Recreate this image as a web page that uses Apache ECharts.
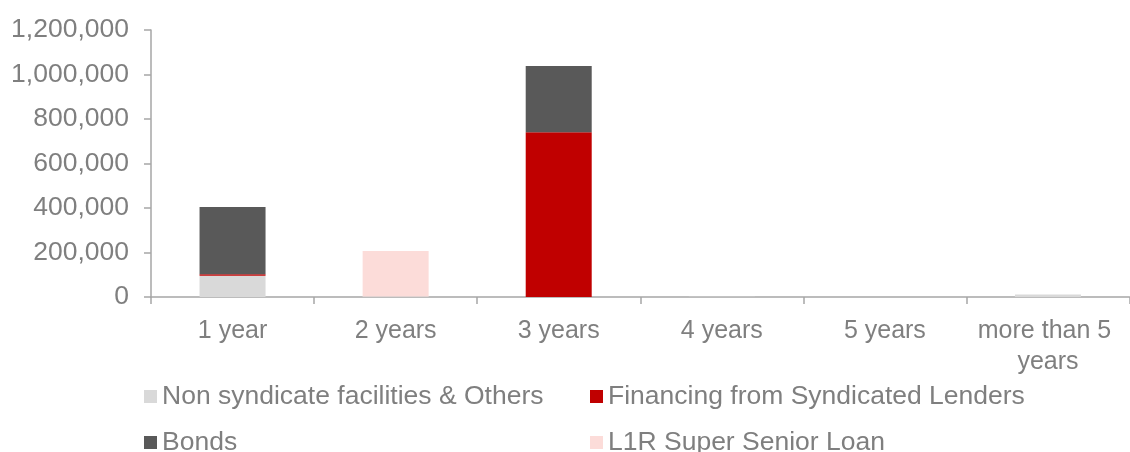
<!DOCTYPE html>
<html>
<head>
<meta charset="utf-8">
<script src="https://cdn.jsdelivr.net/npm/echarts@6/dist/echarts.min.js"></script>
<style>
html,body{margin:0;padding:0;background:#fff;}
#c{width:1130px;height:452px;}
</style>
</head>
<body>
<div id="c"></div>
<script>
const categories = ['1 year', '2 years', '3 years', '4 years', '5 years', 'more than 5 years'];
const nonSyndicate = [96000, 2000, 0, 1500, 0, 11000];
const financingSyndicated = [6000, 0, 740000, 0, 0, 0];
const bonds = [302000, 0, 298000, 0, 0, 0];
const l1rSuperSenior = [0, 205000, 0, 0, 0, 0];
const yTicks = [0, 200000, 400000, 600000, 800000, 1000000, 1200000];
const seriesNames = ['Non syndicate facilities & Others', 'Financing from Syndicated Lenders', 'Bonds', 'L1R Super Senior Loan'];

const FONT = '"Liberation Sans", Arial, sans-serif';
const TXT = '#7f7f7f';
const AX = '#a6a6a6';

const chart = echarts.init(document.getElementById('c'), null, {renderer: 'canvas'});
const mk = (name, data, color) => ({
  name, type: 'bar', stack: 'total', data, barWidth: 66,
  itemStyle: {color}, emphasis: {disabled: true}
});
const lg = (name, left, top) => ({
  data: [name], left, top, orient: 'horizontal',
  itemWidth: 13, itemHeight: 13, icon: 'rect', padding: 0,
  textStyle: {color: TXT, fontSize: 26.5, lineHeight: 26, fontFamily: FONT}
});
chart.setOption({
  animation: false,
  textStyle: {fontFamily: FONT},
  grid: {left: 151, top: 30, bottom: 155, right: -11, containLabel: false},
  legend: [
    lg(seriesNames[0], 144, 383),
    lg(seriesNames[1], 590, 383),
    lg(seriesNames[2], 144, 429),
    lg(seriesNames[3], 590, 429)
  ],
  xAxis: {
    type: 'category', data: categories,
    axisLine: {lineStyle: {color: AX, width: 1.5}},
    axisTick: {show: true, alignWithLabel: false, length: 7, lineStyle: {color: AX, width: 1.5}},
    axisLabel: {
      color: TXT, fontSize: 25, lineHeight: 31, margin: 19, fontFamily: FONT,
      interval: 0, width: 160, overflow: 'break'
    }
  },
  yAxis: {
    type: 'value', min: yTicks[0], max: yTicks[yTicks.length - 1], interval: 200000,
    splitLine: {show: false},
    axisLine: {show: true, lineStyle: {color: AX, width: 1.5}},
    axisTick: {show: true, length: 7, lineStyle: {color: AX, width: 1.5}},
    axisLabel: {
      color: TXT, fontSize: 26.5, margin: 22, fontFamily: FONT,
      formatter: v => v.toLocaleString('en-US')
    }
  },
  series: [
    mk(seriesNames[0], nonSyndicate, '#d9d9d9'),
    mk(seriesNames[1], financingSyndicated, '#c00000'),
    mk(seriesNames[2], bonds, '#595959'),
    mk(seriesNames[3], l1rSuperSenior, '#fcdcd9')
  ]
});
</script>
</body>
</html>
